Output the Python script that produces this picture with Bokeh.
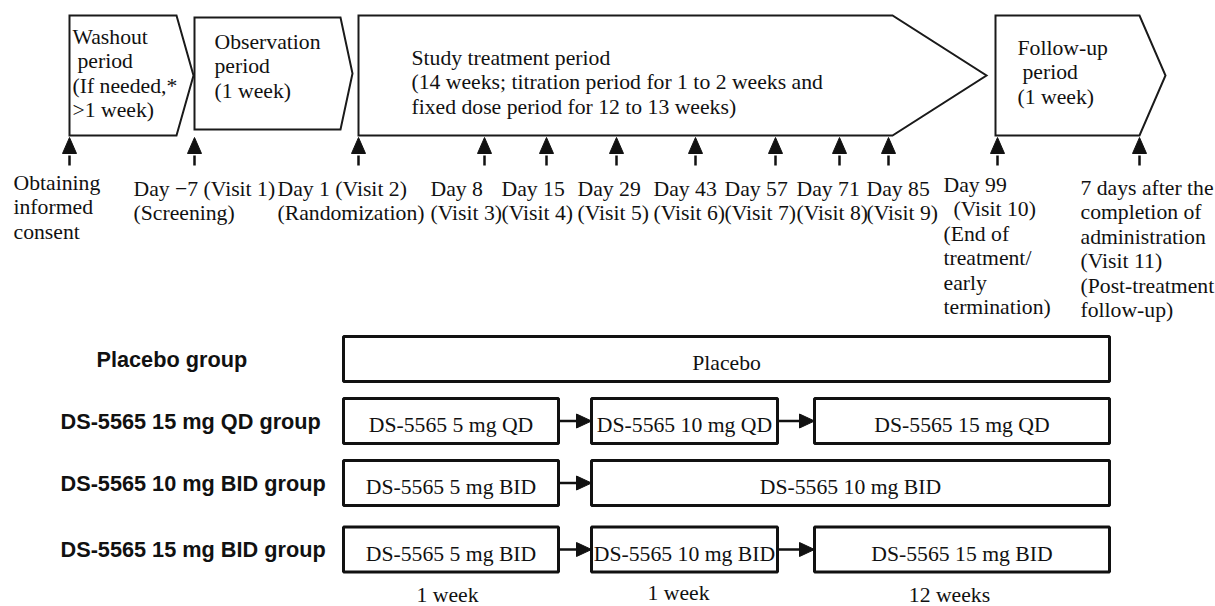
from bokeh.plotting import figure
from bokeh.models import Range1d
from bokeh.core.properties import value
from bokeh.embed import file_html
from bokeh.resources import INLINE

# ---------------- data ----------------
# study periods (top row of arrow-shaped boxes)
period_lines = [
    ["Washout", " period", "(If needed,*", ">1 week)"],
    ["Observation", "period", "(1 week)"],
    ["Study treatment period",
     "(14 weeks; titration period for 1 to 2 weeks and",
     "fixed dose period for 12 to 13 weeks)"],
    ["Follow-up", " period", "(1 week)"],
]
period_left = [69, 194, 358, 995]
period_right = [176, 340, 892, 1139]
period_tip = [193, 352, 986, 1165]
period_top = [15, 17, 15, 15]
period_bottom = [135, 129, 135, 135]
period_text_x = [72, 214, 411, 1017]
period_text_y = [36, 41, 57, 47]

# visits (arrows on the timeline)
visit_x = [69, 194, 358, 484, 546, 616, 695, 775, 839, 888, 997, 1139]
visit_labels = [
    "Obtaining\ninformed\nconsent",
    "Day \u22127 (Visit 1)\n(Screening)",
    "Day 1 (Visit 2)\n(Randomization)",
    "Day 8\n(Visit 3)",
    "Day 15\n(Visit 4)",
    "Day 29\n(Visit 5)",
    "Day 43\n(Visit 6)",
    "Day 57\n(Visit 7)",
    "Day 71\n(Visit 8)",
    "Day 85\n(Visit 9)",
    "Day 99\n  (Visit 10)\n(End of\ntreatment/\nearly\ntermination)",
    "7 days after the\ncompletion of\nadministration\n(Visit 11)\n(Post-treatment\nfollow-up)",
]
visit_label_x = [13, 133, 277, 430, 501, 577, 653, 724, 796, 866, 943, 1080]
visit_label_y = [182, 188, 188, 188, 188, 188, 188, 188, 188, 188, 184, 187]

# treatment groups
groups = ["Placebo group", "DS-5565 15 mg QD group",
          "DS-5565 10 mg BID group", "DS-5565 15 mg BID group"]
group_label_x = [96, 60, 60, 60]
group_y = [358.5, 420.5, 482.5, 549]
treatments = [
    ["Placebo"],
    ["DS-5565 5 mg QD", "DS-5565 10 mg QD", "DS-5565 15 mg QD"],
    ["DS-5565 5 mg BID", "DS-5565 10 mg BID"],
    ["DS-5565 5 mg BID", "DS-5565 10 mg BID", "DS-5565 15 mg BID"],
]
treat_x0 = [[343], [343, 591, 814], [343, 591], [343, 591, 814]]
treat_x1 = [[1109], [558, 777, 1109], [558, 1109], [558, 777, 1109]]
duration_labels = ["1 week", "1 week", "12 weeks"]
duration_x = [447, 678, 949]
duration_y = [594, 592, 594]

# ---------------- styles ----------------
SERIF = value("Liberation Serif")
SANS = value("Liberation Sans")
FS = "21.7px"
LINE_H = 24.5
BOX_HALF = 22.5
W, H = 1215, 606

p = figure(width=W, height=H,
           x_range=Range1d(0, W), y_range=Range1d(H, 0),
           output_backend="svg", toolbar_location=None,
           x_axis_type=None, y_axis_type=None, min_border=0)
p.grid.visible = False
p.outline_line_color = None
p.background_fill_color = "white"
p.border_fill_color = "white"


def text_lines(xs, ys, lines, font=SERIF, style="normal", align="left"):
    tx, ty, tt = [], [], []
    for x, y0, ls in zip(xs, ys, lines):
        for i, ln in enumerate(ls):
            n = len(ln) - len(ln.lstrip(" "))
            tx.append(x + 5 * n)
            ty.append(y0 + i * LINE_H)
            tt.append(ln.strip())
    p.text(x=tx, y=ty, text=tt, text_font=font, text_font_size=FS,
           text_font_style=style, text_align=align, text_baseline="middle",
           text_color="#111111")


# period shapes
pxs, pys = [], []
for l, r, t, top, bot in zip(period_left, period_right, period_tip, period_top, period_bottom):
    pxs.append([l, r, t, r, l])
    pys.append([top, top, (top + bot) / 2, bot, bot])
p.patches(pxs, pys, fill_color="white", line_color="#1a1a1a", line_width=2,
          line_join="miter")
text_lines(period_text_x, period_text_y, period_lines)

# visit arrows
STEM_BOT, HEAD_BASE, TIP = 165, 153, 137
p.segment(x0=visit_x, y0=[STEM_BOT] * len(visit_x), x1=visit_x,
          y1=[HEAD_BASE + 2] * len(visit_x), line_color="#111111", line_width=2.5)
p.patches([[x - 7, x + 7, x] for x in visit_x],
          [[HEAD_BASE, HEAD_BASE, TIP] for _ in visit_x],
          fill_color="#111111", line_color="#111111", line_width=1)
text_lines(visit_label_x, visit_label_y, [s.split("\n") for s in visit_labels])

# group labels
text_lines(group_label_x, group_y, [[g] for g in groups], font=SANS, style="bold")

# treatment boxes
bl, br, bt, bb, tx, ty, tt = [], [], [], [], [], [], []
ax0, ax1, ay = [], [], []
for gy, labs, x0s, x1s in zip(group_y, treatments, treat_x0, treat_x1):
    for i, (lab, a, b) in enumerate(zip(labs, x0s, x1s)):
        bl.append(a); br.append(b)
        bt.append(gy - BOX_HALF); bb.append(gy + BOX_HALF)
        tx.append((a + b) / 2); ty.append(gy + 4); tt.append(lab)
        if i + 1 < len(labs):
            ax0.append(b + 1); ax1.append(x0s[i + 1]); ay.append(gy)
p.quad(left=bl, right=br, top=bt, bottom=bb, fill_color="white",
       line_color="#111111", line_width=3)
p.text(x=tx, y=ty, text=tt, text_font=SERIF, text_font_size=FS,
       text_align="center", text_baseline="middle", text_color="#111111")

HEAD_L, HEAD_W = 15, 7
p.segment(x0=ax0, y0=ay, x1=[x - HEAD_L + 1 for x in ax1], y1=ay,
          line_color="#111111", line_width=2.5)
p.patches([[x - HEAD_L, x - HEAD_L, x] for x in ax1],
          [[y - HEAD_W, y + HEAD_W, y] for y in ay],
          fill_color="#111111", line_color="#111111", line_width=1)

# durations
p.text(x=duration_x, y=duration_y, text=duration_labels, text_font=SERIF,
       text_font_size=FS, text_align="center", text_baseline="middle",
       text_color="#111111")

open("out.html", "w").write(file_html(p, INLINE))
